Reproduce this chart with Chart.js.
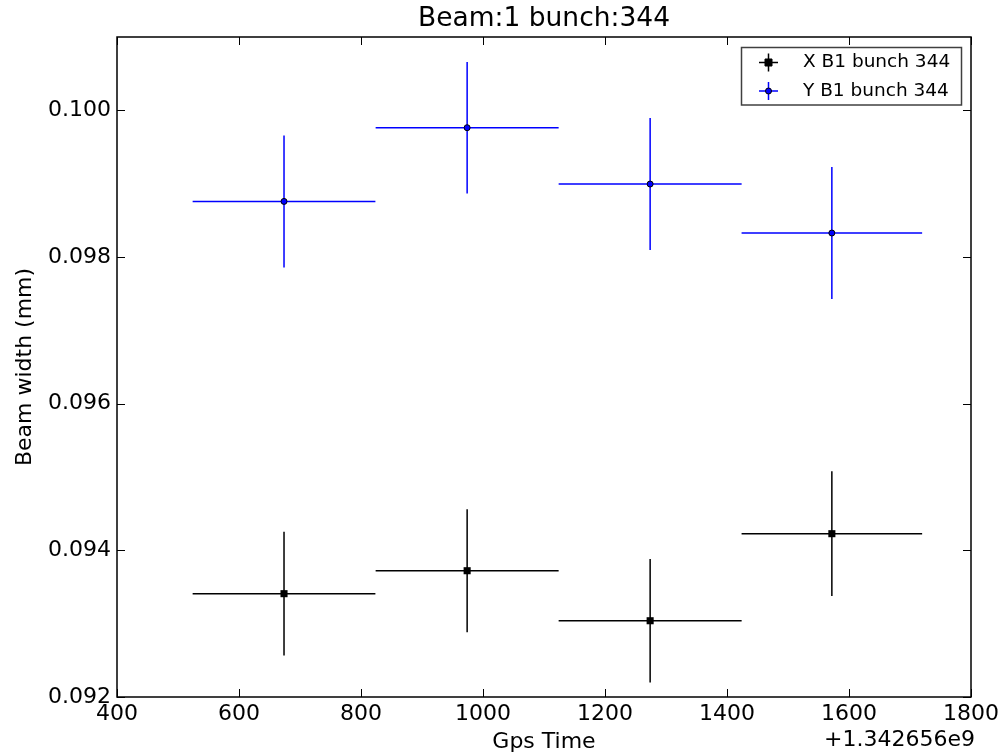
<!DOCTYPE html>
<html>
<head>
<meta charset="utf-8">
<script src="https://cdn.jsdelivr.net/npm/chart.js@4.4.1/dist/chart.umd.min.js"></script>
<style>
  html, body { margin: 0; padding: 0; background: #ffffff; }
  canvas { display: block; }
</style>
</head>
<body>
<canvas id="c" width="1007" height="755"></canvas>
<script>
// ---- data (GPS time offsets from 1.342656e9, beam widths in mm) ----
const chartTitle = 'Beam:1 bunch:344';
const xAxisTitle = 'Gps Time';
const yAxisTitle = 'Beam width (mm)';
const xOffsetText = '+1.342656e9';
const seriesLabels = ['X B1 bunch 344', 'Y B1 bunch 344'];

const gpsTimes = [673.8, 974.0, 1274.0, 1571.9];
const gpsTimeErr = [149.8, 150.0, 150.0, 148.0];

const xBeamWidth = [0.093409, 0.093722, 0.093040, 0.094227];
const xBeamWidthErr = [0.000843, 0.000838, 0.000843, 0.000850];

const yBeamWidth = [0.098758, 0.099763, 0.098995, 0.098327];
const yBeamWidthErr = [0.000900, 0.000896, 0.000900, 0.000900];

const xTickValues = [400, 600, 800, 1000, 1200, 1400, 1600, 1800];
const yTickValues = [0.092, 0.094, 0.096, 0.098, 0.100];
const xRange = [400, 1800];
const yRange = [0.092, 0.101];

const seriesColors = ['#000000', '#0000ff'];
const seriesMarkers = ['rect', 'circle'];
const FONT = 'DejaVu Sans';

function pts(ys) { return gpsTimes.map((t, i) => ({ x: t, y: ys[i] })); }
const yErrs = [xBeamWidthErr, yBeamWidthErr];

const errorBarPlugin = {
  id: 'errorBars',
  beforeDatasetsDraw(chart) {
    const ctx = chart.ctx, xs = chart.scales.x, ys = chart.scales.y;
    chart.data.datasets.forEach((ds, di) => {
      ctx.save();
      ctx.strokeStyle = seriesColors[di];
      ctx.lineWidth = 1.5;
      ds.data.forEach((p, j) => {
        const px = xs.getPixelForValue(p.x), py = ys.getPixelForValue(p.y);
        const x0 = xs.getPixelForValue(p.x - gpsTimeErr[j]);
        const x1 = xs.getPixelForValue(p.x + gpsTimeErr[j]);
        const y0 = ys.getPixelForValue(p.y - yErrs[di][j]);
        const y1 = ys.getPixelForValue(p.y + yErrs[di][j]);
        ctx.beginPath();
        ctx.moveTo(x0, py); ctx.lineTo(x1, py);
        ctx.moveTo(px, y0); ctx.lineTo(px, y1);
        ctx.stroke();
      });
      ctx.restore();
    });
  }
};

const framePlugin = {
  id: 'frame',
  afterDraw(chart) {
    const ctx = chart.ctx, a = chart.chartArea, xs = chart.scales.x, ys = chart.scales.y;
    ctx.save();
    // inward ticks on all four sides
    ctx.strokeStyle = '#000';
    ctx.lineWidth = 1;
    const tl = 8;
    ctx.beginPath();
    xs.ticks.forEach(t => {
      const px = Math.round(xs.getPixelForValue(t.value)) + 0.5;
      ctx.moveTo(px, a.bottom); ctx.lineTo(px, a.bottom - tl);
      ctx.moveTo(px, a.top); ctx.lineTo(px, a.top + tl);
    });
    ys.ticks.forEach(t => {
      const py = Math.round(ys.getPixelForValue(t.value)) + 0.5;
      ctx.moveTo(a.left, py); ctx.lineTo(a.left + tl, py);
      ctx.moveTo(a.right, py); ctx.lineTo(a.right - tl, py);
    });
    ctx.stroke();
    // frame
    ctx.lineWidth = 1.5;
    ctx.strokeRect(a.left, a.top, a.right - a.left, a.bottom - a.top);
    // offset text
    ctx.fillStyle = '#000';
    ctx.font = '22px "' + FONT + '"';
    ctx.textAlign = 'right';
    ctx.textBaseline = 'middle';
    ctx.fillText(xOffsetText, a.right + 4, 740);
    // legend
    const lx = 741.5, ly = 47.5, lw = 220, lh = 57.5;
    ctx.fillStyle = '#fff';
    ctx.fillRect(lx, ly, lw, lh);
    ctx.strokeStyle = '#404040';
    ctx.lineWidth = 1.5;
    ctx.strokeRect(lx, ly, lw, lh);
    const rows = [62.5, 91];
    chart.data.datasets.forEach((ds, di) => {
      const cy = rows[di], cx = 768.5;
      ctx.strokeStyle = seriesColors[di];
      ctx.lineWidth = 1.5;
      ctx.beginPath();
      ctx.moveTo(cx - 9.5, cy); ctx.lineTo(cx + 9.5, cy);
      ctx.moveTo(cx, cy - 9); ctx.lineTo(cx, cy + 9);
      ctx.stroke();
      ctx.fillStyle = seriesColors[di];
      ctx.strokeStyle = '#000';
      ctx.lineWidth = 1;
      ctx.beginPath();
      if (seriesMarkers[di] === 'rect') {
        ctx.rect(cx - 3.5, cy - 3.5, 7, 7);
      } else {
        ctx.arc(cx, cy, 3, 0, Math.PI * 2);
      }
      ctx.fill(); ctx.stroke();
      ctx.fillStyle = '#000';
      ctx.font = '18.5px "' + FONT + '"';
      ctx.textAlign = 'left';
      ctx.textBaseline = 'middle';
      ctx.fillText(ds.label, 803, cy);
    });
    ctx.restore();
  }
};

new Chart(document.getElementById('c'), {
  type: 'scatter',
  data: {
    datasets: [
      {
        label: seriesLabels[0],
        data: pts(xBeamWidth),
        showLine: false,
        pointStyle: seriesMarkers[0],
        pointRadius: 5,
        pointBackgroundColor: seriesColors[0],
        pointBorderColor: '#000',
        pointBorderWidth: 0
      },
      {
        label: seriesLabels[1],
        data: pts(yBeamWidth),
        showLine: false,
        pointStyle: seriesMarkers[1],
        pointRadius: 3,
        pointBackgroundColor: seriesColors[1],
        pointBorderColor: '#000',
        pointBorderWidth: 1
      }
    ]
  },
  options: {
    responsive: false,
    animation: false,
    devicePixelRatio: 1,
    layout: { padding: { left: 0, right: 36, top: 0, bottom: 0 } },
    plugins: {
      legend: { display: false },
      tooltip: { enabled: false },
      title: {
        display: true,
        text: chartTitle,
        fullSize: false,
        color: '#000',
        font: { family: FONT, size: 26.5, weight: 'normal', lineHeight: 1.2 },
        padding: { top: 3, bottom: 2.2 }
      }
    },
    scales: {
      x: {
        type: 'linear',
        min: xRange[0], max: xRange[1],
        afterBuildTicks: s => { s.ticks = xTickValues.map(v => ({ value: v })); },
        afterFit: s => { s.height = 58; },
        grid: { display: false, drawTicks: false },
        border: { display: false },
        ticks: {
          color: '#000',
          font: { family: FONT, size: 22 },
          padding: 4,
          maxRotation: 0,
          autoSkip: false,
          callback: v => String(v)
        },
        title: {
          display: true,
          text: xAxisTitle,
          color: '#000',
          font: { family: FONT, size: 22, lineHeight: 1.2 },
          padding: { top: 0, bottom: 0 }
        }
      },
      y: {
        type: 'linear',
        min: yRange[0], max: yRange[1],
        afterBuildTicks: s => { s.ticks = yTickValues.map(v => ({ value: v })); },
        afterFit: s => { s.width = 117; },
        grid: { display: false, drawTicks: false },
        border: { display: false },
        ticks: {
          color: '#000',
          font: { family: FONT, size: 22 },
          padding: 6,
          autoSkip: false,
          callback: v => Number(v).toFixed(3)
        },
        title: {
          display: true,
          text: yAxisTitle,
          color: '#000',
          font: { family: FONT, size: 22, lineHeight: 1.2 },
          padding: { top: 12, bottom: 0 }
        }
      }
    }
  },
  plugins: [errorBarPlugin, framePlugin]
});
</script>
</body>
</html>
